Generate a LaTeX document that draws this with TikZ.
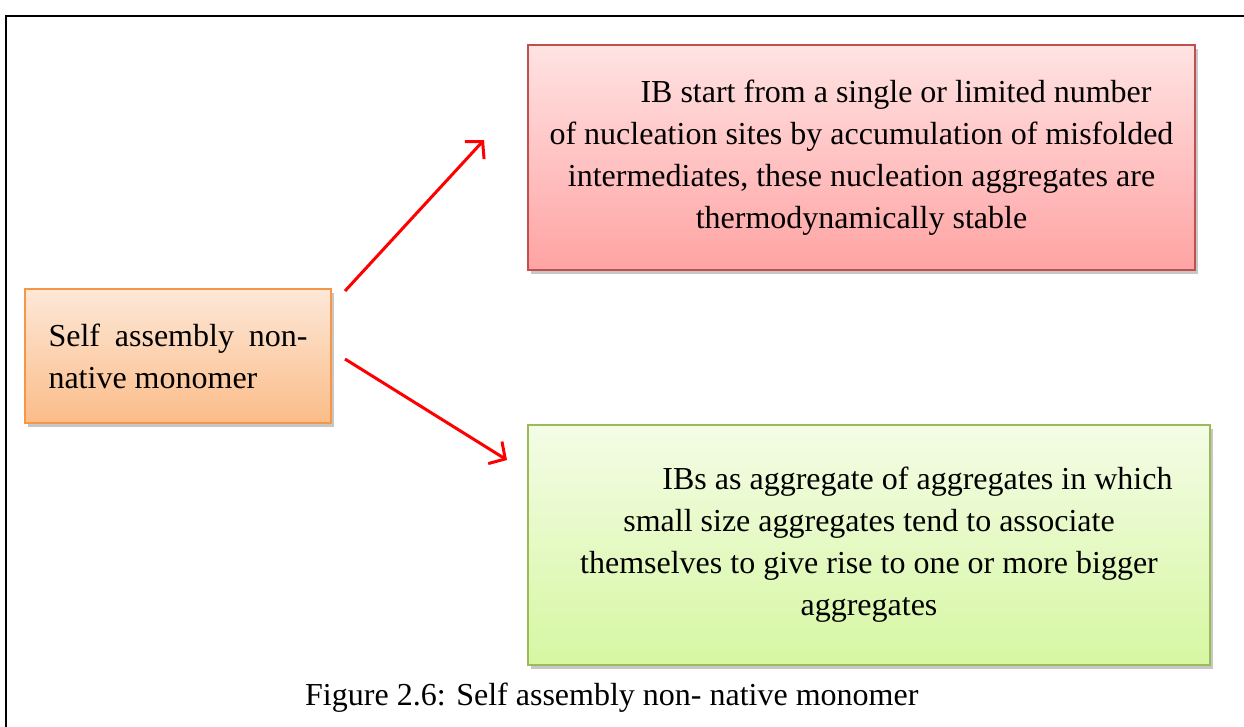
\documentclass[tikz,border=0pt]{standalone}
\usepackage{fontspec}
\setmainfont{Liberation Serif}
\usetikzlibrary{arrows.meta,shadows}
\definecolor{redborder}{HTML}{C0504D}
\definecolor{redtop}{HTML}{FFE3E3}
\definecolor{redbot}{HTML}{FFA3A3}
\definecolor{greenborder}{HTML}{9BBB59}
\definecolor{greentop}{HTML}{F4FCE6}
\definecolor{greenbot}{HTML}{D6F7A2}
\definecolor{orangeborder}{HTML}{F79646}
\definecolor{orangetop}{HTML}{FDE8D8}
\definecolor{orangebot}{HTML}{FBBC88}
\definecolor{arrowred}{HTML}{FF0000}
\tikzset{
  boxbase/.style={draw, line width=1.5pt, inner sep=0pt, align=center,
    font=\fontsize{32}{42}\selectfont,
    drop shadow={shadow xshift=3pt, shadow yshift=-4pt, fill=black, opacity=0.22}},
  redbox/.style={boxbase, draw=redborder, top color=redtop, bottom color=redbot},
  greenbox/.style={boxbase, draw=greenborder, top color=greentop, bottom color=greenbot},
  orangebox/.style={boxbase, draw=orangeborder, top color=orangetop, bottom color=orangebot, align=left},
  redarrow/.style={draw=arrowred, line width=3pt, -{Straight Barb[length=12pt,width=26pt]}},
  frameline/.style={draw=black, line width=2pt},
  captiontext/.style={inner sep=0pt, font=\fontsize{32}{42}\selectfont}
}
\begin{document}
\begin{tikzpicture}[x=1pt,y=-1pt]
\useasboundingbox (0,0) rectangle (1244,726);
\fill[white] (0,0) rectangle (1244,726);
\draw[frameline] (6,727) -- (6,16) -- (1245,16);

\node[orangebox, minimum width=306pt, minimum height=134pt] (src) at (178,356)
  {\makebox[259pt][s]{Self assembly non-}\\native monomer};

\node[redbox, minimum width=667pt, minimum height=225pt] (top) at (861.5,157.5)
  {\hspace*{69pt}IB start from a single or limited number\\
   of nucleation sites by accumulation of misfolded\\
   intermediates, these nucleation aggregates are\\
   thermodynamically stable};

\node[greenbox, minimum width=682pt, minimum height=240pt] (bot) at (869,545)
  {\hspace*{97pt}IBs as aggregate of aggregates in which\\
   small size aggregates tend to associate\hspace*{30pt}\\
   themselves to give rise to one or more bigger\\
   aggregates};

\coordinate (a1s) at (345,291);
\coordinate (a1e) at (484,140);
\coordinate (a2s) at (345,359);
\coordinate (a2e) at (507,460);
\draw[redarrow] (a1s) -- (a1e);
\draw[redarrow] (a2s) -- (a2e);

\node[captiontext, anchor=base west] (cap) at (305,705)
  {Figure 2.6: Self assembly non- native monomer};
\end{tikzpicture}
\end{document}
